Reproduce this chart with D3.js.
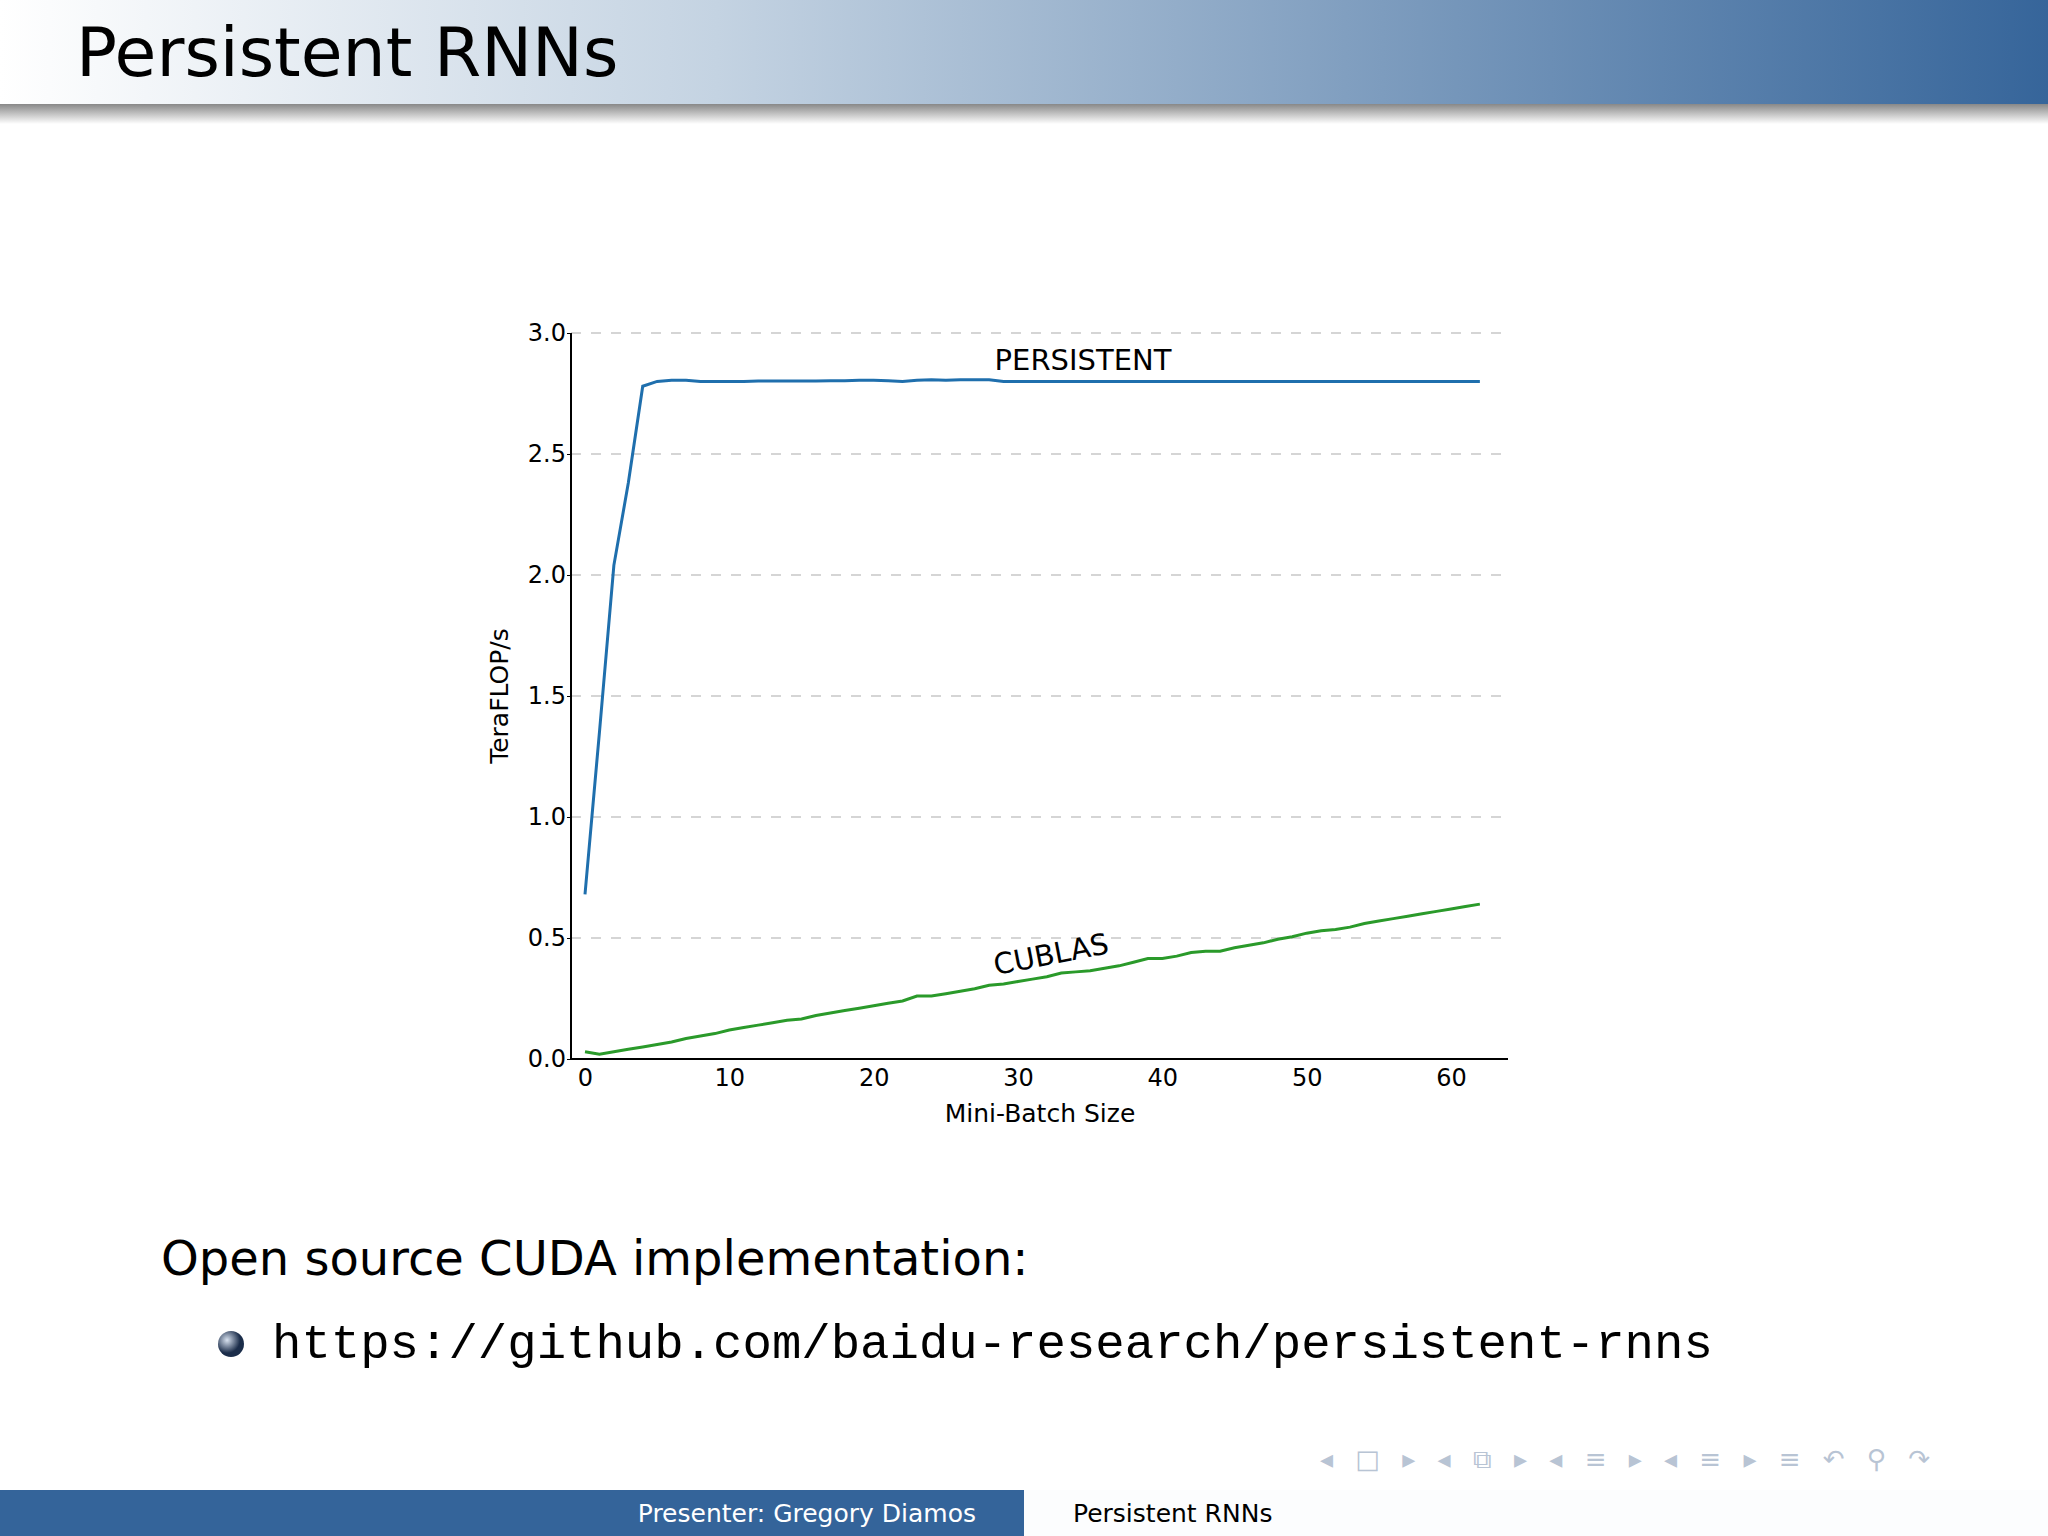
<!DOCTYPE html><html><head><meta charset="utf-8">
<script src="https://cdn.jsdelivr.net/npm/d3@7"></script>
<style>body{margin:0;background:#fff}svg{display:block}</style></head><body>
<script>
const batchSizes = d3.range(0, 63);
const persistent = [0.68,1.35,2.04,2.38,2.78,2.80,2.805,2.805,2.80,2.80,2.80,2.80,2.802,2.802,2.802,2.802,2.802,2.803,2.803,2.805,2.805,2.803,2.80,2.805,2.807,2.805,2.807,2.807,2.807,2.80,2.80,2.80,2.80,2.80,2.80,2.80,2.80,2.80,2.80,2.80,2.80,2.80,2.80,2.80,2.80,2.80,2.80,2.80,2.80,2.80,2.80,2.80,2.80,2.80,2.80,2.80,2.80,2.80,2.80,2.80,2.80,2.80,2.80];
const cublas = [0.03,0.02,0.03,0.04,0.05,0.06,0.07,0.085,0.095,0.105,0.12,0.13,0.14,0.15,0.16,0.165,0.18,0.19,0.2,0.21,0.22,0.23,0.24,0.26,0.26,0.27,0.28,0.29,0.305,0.31,0.32,0.33,0.34,0.355,0.36,0.365,0.375,0.385,0.40,0.415,0.415,0.425,0.44,0.445,0.445,0.46,0.47,0.48,0.495,0.505,0.52,0.53,0.535,0.545,0.56,0.57,0.58,0.59,0.60,0.61,0.62,0.63,0.64];
const xTicks = [0,10,20,30,40,50,60];
const yTicks = [0,0.5,1.0,1.5,2.0,2.5,3.0];

const W=2048,H=1536;
const svg=d3.select("body").append("svg").attr("width",W).attr("height",H);
const defs=svg.append("defs");
const g1=defs.append("linearGradient").attr("id","hdr");
g1.append("stop").attr("offset","0").attr("stop-color","#ffffff");
g1.append("stop").attr("offset","0.35").attr("stop-color","#c4d3e2");
g1.append("stop").attr("offset","1").attr("stop-color","#36659a");
const g2=defs.append("linearGradient").attr("id","sh").attr("x1",0).attr("x2",0).attr("y1",0).attr("y2",1);
g2.append("stop").attr("offset","0").attr("stop-color","#888");
g2.append("stop").attr("offset","1").attr("stop-color","#fff");
svg.append("rect").attr("width",W).attr("height",104).attr("fill","url(#hdr)");
svg.append("rect").attr("y",104).attr("width",W).attr("height",20).attr("fill","url(#sh)");
svg.append("text").attr("x",76).attr("y",76).attr("font-family","DejaVu Sans").attr("font-size",68).attr("fill","#000").text("Persistent RNNs");

const x=d3.scaleLinear().domain([0,60]).range([585,1451]);
const y=d3.scaleLinear().domain([0,3]).range([1059,333]);
const F="DejaVu Sans";
svg.append("g").selectAll("line").data(yTicks.filter(d=>d>0)).join("line")
 .attr("x1",571).attr("x2",1508).attr("y1",d=>y(d)).attr("y2",d=>y(d))
 .attr("stroke","#c8c8c8").attr("stroke-width",1.3).attr("stroke-dasharray","10,10");
const ya=svg.append("g").attr("transform","translate(571,0)").call(d3.axisLeft(y).tickValues(yTicks).tickFormat(d3.format(".1f")).tickSize(4));
ya.select(".domain").attr("d",`M0,${y(3)}V${y(0)}`).attr("stroke-width",2);
const xa=svg.append("g").attr("transform","translate(0,1059)").call(d3.axisBottom(x).tickValues(xTicks).tickSize(0).tickPadding(10));
xa.select(".domain").attr("d","M571,0H1508").attr("stroke-width",2);
[ya,xa].forEach(a=>a.selectAll("text").attr("font-family",F).attr("font-size",24).attr("fill","#000"));
ya.selectAll("text").attr("dx",2);
const line=d3.line().x((d,i)=>x(batchSizes[i])).y(d=>y(d));
svg.append("path").datum(persistent).attr("d",line).attr("fill","none").attr("stroke","#1f6fad").attr("stroke-width",3);
svg.append("path").datum(cublas).attr("d",line).attr("fill","none").attr("stroke","#2a9a2a").attr("stroke-width",3);
svg.append("text").attr("x",1083).attr("y",370).attr("text-anchor","middle").attr("font-family",F).attr("font-size",29).text("PERSISTENT");
svg.append("text").attr("transform","translate(1053,964) rotate(-11)").attr("text-anchor","middle").attr("font-family",F).attr("font-size",29).text("CUBLAS");
svg.append("text").attr("x",1040).attr("y",1122).attr("text-anchor","middle").attr("font-family",F).attr("font-size",25).text("Mini-Batch Size");
svg.append("text").attr("transform","translate(508,696) rotate(-90)").attr("text-anchor","middle").attr("font-family",F).attr("font-size",25).text("TeraFLOP/s");

svg.append("text").attr("x",161).attr("y",1275).attr("font-family",F).attr("font-size",48).text("Open source CUDA implementation:");
const rg=defs.append("radialGradient").attr("id","ball").attr("cx","0.35").attr("cy","0.35");
rg.append("stop").attr("offset","0").attr("stop-color","#d8e2f0");
rg.append("stop").attr("offset","1").attr("stop-color","#1b2d4a");
svg.append("circle").attr("cx",231).attr("cy",1344).attr("r",13).attr("fill","url(#ball)");
svg.append("text").attr("x",272).attr("y",1358).attr("font-family","Liberation Mono").attr("font-size",49).text("https://github.com/baidu-research/persistent-rnns");

svg.append("text").attr("x",1320).attr("y",1468).attr("font-family",F).attr("font-size",26).attr("letter-spacing",7).attr("fill","#b8c4d4").text("◂ □ ▸  ◂ ⧉ ▸  ◂ ≡ ▸  ◂ ≡ ▸   ≡   ↶ ⚲ ↷");
svg.append("rect").attr("y",1490).attr("width",1024).attr("height",46).attr("fill","#34649a");
svg.append("rect").attr("x",1024).attr("y",1490).attr("width",1024).attr("height",46).attr("fill","#fcfdfe");
svg.append("text").attr("x",976).attr("y",1522).attr("text-anchor","end").attr("font-family",F).attr("font-size",25).attr("fill","#fff").text("Presenter: Gregory Diamos");
svg.append("text").attr("x",1073).attr("y",1522).attr("font-family",F).attr("font-size",25).attr("fill","#000").text("Persistent RNNs");
</script></body></html>
